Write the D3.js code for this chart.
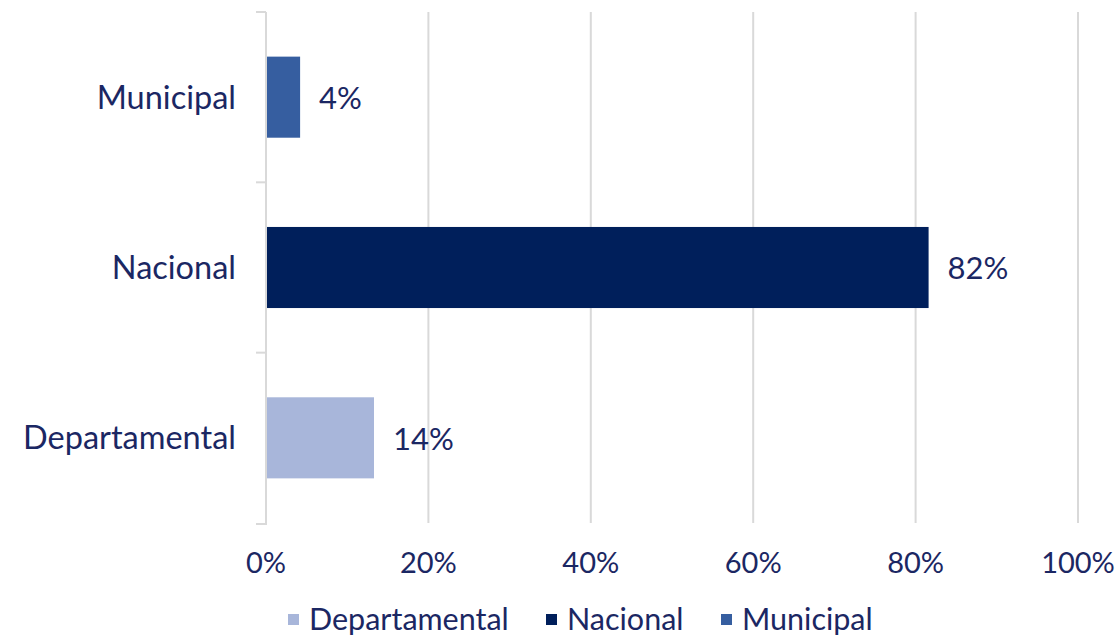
<!DOCTYPE html>
<html>
<head>
<meta charset="utf-8">
<script src="https://cdn.jsdelivr.net/npm/d3@7"></script>
<style>
    body { margin: 0; background: #ffffff; }
    text { font-family: Lato, "Open Sans", sans-serif; fill: #1b2763; }
</style>
</head>
<body>
<svg id="chart" width="1119" height="635"></svg>
<script>
// data
const categories = ['Municipal', 'Nacional', 'Departamental'];
const values = [0.042, 0.816, 0.133];
const valueLabels = ['4%', '82%', '14%'];
const barColors = ['#365ea0', '#001f5b', '#a8b6da'];
const xTicks = [0, 0.2, 0.4, 0.6, 0.8, 1.0];
const legendOrder = ['Departamental', 'Nacional', 'Municipal'];

const width = 1119;
const height = 635;
const margin = { top: 12, right: 41, bottom: 112, left: 266 };

const svg = d3.select('#chart');

const x = d3.scaleLinear()
    .domain([0, 1])
    .range([margin.left, width - margin.right]);

const y = d3.scaleBand()
    .domain(categories)
    .range([margin.top, height - margin.bottom])
    .paddingInner(0.524)
    .paddingOuter(0.262);

const color = d3.scaleOrdinal()
    .domain(categories)
    .range(barColors);

const gridColor = '#d9d9d9';

// vertical gridlines
svg.append('g')
    .selectAll('line')
    .data(xTicks.slice(1))
    .join('line')
    .attr('x1', d => x(d))
    .attr('x2', d => x(d))
    .attr('y1', margin.top)
    .attr('y2', height - margin.bottom)
    .attr('stroke', gridColor)
    .attr('stroke-width', 2);

// category axis line + boundary ticks
svg.append('line')
    .attr('x1', x(0))
    .attr('x2', x(0))
    .attr('y1', margin.top)
    .attr('y2', height - margin.bottom + 2)
    .attr('stroke', gridColor)
    .attr('stroke-width', 2);

const halfGap = y.step() * y.paddingInner() / 2;
const boundaries = categories.map(c => y(c) - halfGap).concat([height - margin.bottom + 1]);
svg.append('g')
    .selectAll('line')
    .data(boundaries)
    .join('line')
    .attr('x1', x(0) - 10)
    .attr('x2', x(0))
    .attr('y1', d => d)
    .attr('y2', d => d)
    .attr('stroke', gridColor)
    .attr('stroke-width', 2);

// bars
svg.append('g')
    .selectAll('rect')
    .data(categories)
    .join('rect')
    .attr('x', x(0) + 1)
    .attr('y', d => y(d))
    .attr('width', (d, i) => x(values[i]) - x(0) - 1)
    .attr('height', y.bandwidth())
    .attr('fill', d => color(d));

// value labels
svg.append('g')
    .selectAll('text')
    .data(categories)
    .join('text')
    .text((d, i) => valueLabels[i])
    .attr('x', (d, i) => x(values[i]) + 19)
    .attr('y', d => y(d) + y.bandwidth() / 2 + 1)
    .attr('dy', '0.35em')
    .style('font-size', '31px');

// category labels
svg.append('g')
    .selectAll('text')
    .data(categories)
    .join('text')
    .text(d => d)
    .attr('x', x(0) - 30)
    .attr('y', d => y(d) + y.bandwidth() / 2)
    .attr('dy', '0.35em')
    .attr('text-anchor', 'end')
    .style('font-size', '32.5px');

// x tick labels
svg.append('g')
    .selectAll('text')
    .data(xTicks)
    .join('text')
    .text(d => d3.format('.0%')(d))
    .attr('x', d => x(d))
    .attr('y', 573)
    .attr('text-anchor', 'middle')
    .style('font-size', '29px');

// legend
const legendX = [288, 546, 721];
const legend = svg.append('g')
    .selectAll('g')
    .data(legendOrder)
    .join('g')
    .attr('transform', (d, i) => `translate(${legendX[i]}, 619)`);

legend.append('rect')
    .attr('x', 0)
    .attr('y', -5)
    .attr('width', 11)
    .attr('height', 11)
    .attr('fill', d => color(d));

legend.append('text')
    .text(d => d)
    .attr('x', 21)
    .attr('y', 0)
    .attr('dy', '0.35em')
    .style('font-size', '30.5px');
</script>
</body>
</html>
